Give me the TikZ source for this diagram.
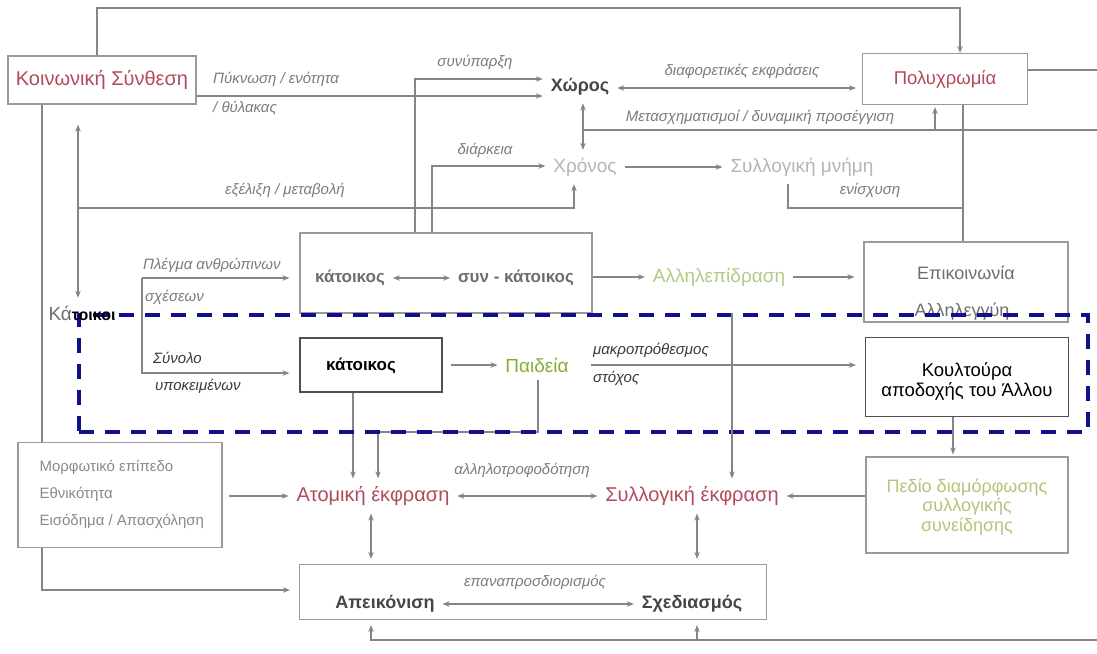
\documentclass[tikz,border=0pt]{standalone}
\usepackage{fontspec}
\setmainfont{Liberation Sans}
\usetikzlibrary{arrows.meta}
\definecolor{linec}{HTML}{858585}
\definecolor{boxc}{HTML}{9A9A9A}
\definecolor{darkbox}{HTML}{505050}
\definecolor{itc}{HTML}{7C7C7C}
\definecolor{itdc}{HTML}{3A3A3A}
\definecolor{redt}{HTML}{B24A5B}
\definecolor{lgray}{HTML}{B5B5B5}
\definecolor{mgray}{HTML}{6E6E6E}
\definecolor{morc}{HTML}{8A8A8A}
\definecolor{dgray}{HTML}{454545}
\definecolor{greent}{HTML}{86AD34}
\definecolor{lgreen}{HTML}{B3CB86}
\definecolor{olivet}{HTML}{B6C37A}
\definecolor{navyc}{HTML}{10108C}
\begin{document}
\begin{tikzpicture}[x=1pt,y=-1pt,
 ln/.style={draw=linec,line width=1.1pt},
 arr/.style={ln,-{Stealth[length=7pt,width=5.5pt]}},
 darr/.style={ln,{Stealth[length=7pt,width=5.5pt]}-{Stealth[length=7pt,width=5.5pt]}},
 box/.style={draw=boxc,line width=1.2pt,fill=white,inner sep=0pt},
 txt/.style={inner sep=1pt,outer sep=7pt},
 fnt/.style={font=\fontsize{19}{23}\selectfont},
 it/.style={inner sep=0pt,text=itc,font=\fontsize{15}{18}\selectfont\itshape},
 itdark/.style={it,text=itdc}
]
\useasboundingbox (0,0) rectangle (1097,653);
\fill[white] (0,0) rectangle (1097,653);

% ---------- boxes ----------
\node[box,minimum width=188pt,minimum height=48pt,text=redt,font=\fontsize{20}{24}\selectfont] (ks) at (102,80) {Κοινωνική Σύνθεση};
\node[box,minimum width=165pt,minimum height=51pt,text=redt,font=\fontsize{18.5}{22}\selectfont] (pol) at (945,79) {Πολυχρωμία};
\node[box,minimum width=292pt,minimum height=80pt] (ku) at (446,273) {};
\node[box,minimum width=204pt,minimum height=80pt] (epi) at (966,282) {};
\node[box,draw=darkbox,minimum width=142pt,minimum height=54pt] (kl) at (371,365) {};
\node[font=\fontsize{17}{20}\selectfont\bfseries] (kltxt) at (361,366) {κάτοικος};
\node[box,draw=darkbox,minimum width=203pt,minimum height=79pt] (kou) at (967,377) {};
\node[align=center,font=\fontsize{18.5}{20}\selectfont] (koutxt) at (967,381) {Κουλτούρα\\αποδοχής του Άλλου};
\node[box,minimum width=204pt,minimum height=105pt] (mor) at (120,495) {};
\node[anchor=west,align=left,text=morc,font=\fontsize{15}{27}\selectfont] (mortxt) at (36,494) {Μορφωτικό επίπεδο\\Εθνικότητα\\Εισόδημα / Απασχόληση};
\node[box,minimum width=202pt,minimum height=96pt] (ped) at (967,505) {};
\node[align=center,text=olivet,font=\fontsize{18}{19.5}\selectfont] (pedtxt) at (967,507) {Πεδίο διαμόρφωσης\\συλλογικής\\συνείδησης};
\node[box,minimum width=467pt,minimum height=55pt] (apbox) at (533,592) {};

% ---------- text nodes ----------
\node[txt,font=\fontsize{18}{22}\selectfont\bfseries,text=dgray] (xor) at (580,87) {Χώρος};
\node[txt,fnt,text=lgray] (xron) at (585,167) {Χρόνος};
\node[txt,fnt,text=lgray] (smn) at (802,167) {Συλλογική μνήμη};
\node[txt,font=\fontsize{17}{20}\selectfont\bfseries,text=mgray] (k1) at (350,278) {κάτοικος};
\node[txt,font=\fontsize{17}{20}\selectfont\bfseries,text=mgray] (k2) at (516,278) {συν - κάτοικος};
\node[txt,fnt,text=lgreen] (all) at (719,277) {Αλληλεπίδραση};
\node[txt,font=\fontsize{18}{22}\selectfont,text=mgray] (epi1) at (966,273) {Επικοινωνία};
\node[txt,font=\fontsize{18}{22}\selectfont,text=mgray] (epi2) at (962,312) {Αλληλεγγύη};
\node[txt,fnt,text=greent] (paid) at (537,365) {Παιδεία};
\node[txt,font=\fontsize{20}{24}\selectfont,text=redt] (atom) at (373,496) {Ατομική έκφραση};
\node[txt,font=\fontsize{20}{24}\selectfont,text=redt] (syl) at (692,496) {Συλλογική έκφραση};
\node[txt,font=\fontsize{18}{22}\selectfont\bfseries,text=dgray] (apei) at (385,604) {Απεικόνιση};
\node[txt,font=\fontsize{18}{22}\selectfont\bfseries,text=dgray] (sxe) at (692,604) {Σχεδιασμός};

% ---------- italic labels ----------
\node[it,anchor=west] (l1) at (213,79) {Πύκνωση / ενότητα};
\node[it,anchor=west] (l2) at (213,108) {/ θύλακας};
\node[it] (l3) at (475,62) {συνύπαρξη};
\node[it] (l4) at (485,150) {διάρκεια};
\node[it] (l5) at (742,71) {διαφορετικές εκφράσεις};
\node[it] (l6) at (760,117) {Μετασχηματισμοί / δυναμική προσέγγιση};
\node[it] (l7) at (870,190) {ενίσχυση};
\node[it] (l8) at (285,190) {εξέλιξη / μεταβολή};
\node[it,anchor=west] (l9) at (143,265) {Πλέγμα ανθρώπινων};
\node[it,anchor=west] (l10) at (145,297) {σχέσεων};
\node[itdark,anchor=west] (l11) at (153,358) {Σύνολο};
\node[itdark,anchor=west] (l12) at (155,386) {υποκειμένων};
\node[itdark,anchor=west] (l13) at (593,350) {μακροπρόθεσμος};
\node[itdark,anchor=west] (l14) at (593,378) {στόχος};
\node[it] (l15) at (522,470) {αλληλοτροφοδότηση};
\node[it] (l16) at (535,582) {επαναπροσδιορισμός};

% ---------- helper coordinates ----------
\coordinate (tA) at (97,8);
\coordinate (v960) at (960,0);
\coordinate (hP) at (0,96);
\coordinate (hS) at (415,79);
\coordinate (hD) at (432,166);
\coordinate (hX) at (0,88);
\coordinate (vX) at (583,0);
\coordinate (m1) at (583,130);
\coordinate (m2) at (1097,130);
\coordinate (m3) at (935,130);
\coordinate (vPE) at (963,0);
\coordinate (e0) at (788,0);
\coordinate (e1) at (963,208);
\coordinate (ex) at (78,208);
\coordinate (vEx) at (574,0);
\coordinate (v78) at (78,0);
\coordinate (v42) at (42,0);
\coordinate (h590) at (0,590);
\coordinate (kv1) at (142,278);
\coordinate (kv2) at (142,373);
\coordinate (v538) at (538,0);
\coordinate (pc) at (378,432);
\coordinate (v353) at (353,0);
\coordinate (v953) at (953,0);
\coordinate (v732) at (732,0);
\coordinate (v371) at (371,0);
\coordinate (v697) at (697,0);
\coordinate (b0) at (1097,640);
\coordinate (b1) at (697,640);
\coordinate (r70) at (1097,70);

% ---------- connectors ----------
\draw[arr] (ks.north -| tA) -- (tA) -| (pol.north -| v960);
\draw[ln] (pol.east |- r70) -- (r70);
\draw[arr] (ks.east |- hP) -- (xor.west |- hP);
\draw[arr] (ku.north -| hS) -- (hS) -- (xor.west |- hS);
\draw[arr] (ku.north -| hD) -- (hD) -- (xron.west |- hD);
\draw[darr,shorten >=6pt] (xor.east |- hX) -- (pol.west |- hX);
\draw[darr] (xor.south -| vX) -- (xron.north -| vX);
\draw[ln] (m1) -- (m2);
\draw[arr,shorten >=2pt] (m3) -- (pol.south -| m3);
\draw[arr] (xron.east) -- (smn.west);
\draw[ln] (pol.south -| vPE) -- (epi.north -| vPE);
\draw[ln] (smn.south -| e0) |- (e1);
\draw[arr] (ex) -| (xron.south -| vEx);
\draw[ln] (ks.south -| v42) -- (mor.north -| v42);
\draw[arr,shorten >=9pt] (mor.south -| v42) |- (apbox.west |- h590);
\draw[arr,shorten >=10pt] (kv1) -- (ku.west |- kv1);
\draw[arr,shorten >=10pt] (kv1) -- (kv2) -- (kl.west |- kv2);
\draw[darr] (k1.east) -- (k2.west);
\draw[arr] (ku.east |- all) -- (all.west);
\draw[arr,shorten >=9pt] (all.east) -- (epi.west |- all);
\draw[arr,shorten <=8pt] (kl.east) -- (paid.west);
\draw[arr,shorten <=14pt,shorten >=9pt] (paid.east) -- (kou.west |- paid);
\draw[arr] (paid.south -| v538) |- (pc) -- (atom.north -| pc);
\draw[arr] (kl.south -| v353) -- (atom.north -| v353);
\draw[arr,shorten >=2pt] (kou.south -| v953) -- (ped.north -| v953);
\draw[arr] (ped.west |- syl) -- (syl.east);
\draw[arr,shorten <=6pt] (mor.east |- atom) -- (atom.west);
\draw[darr] (atom.east) -- (syl.west);
\draw[darr,shorten >=5pt] (atom.south -| v371) -- (apbox.north -| v371);
\draw[darr,shorten >=5pt] (syl.south -| v697) -- (apbox.north -| v697);
\draw[darr] (apei.east) -- (sxe.west);
\draw[arr,shorten >=5pt] (b0) -| (apbox.south -| v371);
\draw[arr,shorten >=5pt] (b1) -- (apbox.south -| v697);

% ---------- dashed frame ----------
\node[draw=navyc,line width=4pt,dash pattern=on 15pt off 11pt,minimum width=1009pt,minimum height=117pt,inner sep=0pt] (grp) at (583.5,373.5) {};
\draw[arr] (grp.north -| v732) -- (syl.north -| v732);

% ---------- Katoikoi ----------
\node[txt] (katoikoi) at (82,313) {\fontsize{19}{23}\selectfont\color{mgray}Κά\fontsize{16}{20}\selectfont\bfseries\color{black}τοικοι};
\draw[darr,shorten <=20pt] (ks.south -| v78) -- (katoikoi.north -| v78);
\end{tikzpicture}
\end{document}
